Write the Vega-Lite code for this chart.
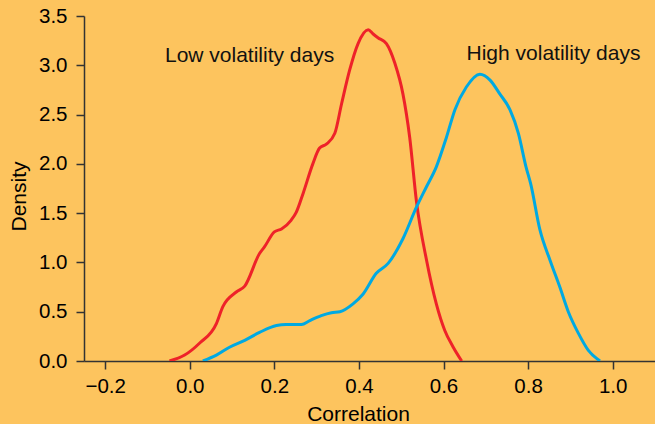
{
  "$schema": "https://vega.github.io/schema/vega-lite/v6.json",
  "width": 571,
  "height": 345,
  "autosize": "none",
  "padding": {"left": 84, "top": 16, "right": 0, "bottom": 63},
  "background": "#FDC45E",
  "config": {
    "view": {"stroke": null},
    "font": "Liberation Sans",
    "axis": {
      "domainColor": "#333333",
      "tickColor": "#333333",
      "tickSize": 8,
      "domainWidth": 1.5,
      "tickWidth": 1.5,
      "labelFont": "Liberation Sans",
      "labelFontSize": 20.5,
      "labelColor": "#000000",
      "titleFont": "Liberation Sans",
      "titleFontSize": 21,
      "titleFontWeight": "normal",
      "titleColor": "#000000",
      "grid": false
    }
  },
  "datasets": {
    "curves": [
      {"series": "Low", "x": -0.048, "y": 0.0},
      {"series": "Low", "x": -0.012, "y": 0.06},
      {"series": "Low", "x": 0.023, "y": 0.18},
      {"series": "Low", "x": 0.063, "y": 0.38},
      {"series": "Low", "x": 0.078, "y": 0.55},
      {"series": "Low", "x": 0.11, "y": 0.7},
      {"series": "Low", "x": 0.13, "y": 0.76},
      {"series": "Low", "x": 0.165, "y": 1.09},
      {"series": "Low", "x": 0.177, "y": 1.16},
      {"series": "Low", "x": 0.2, "y": 1.31},
      {"series": "Low", "x": 0.217, "y": 1.34},
      {"series": "Low", "x": 0.24, "y": 1.43},
      {"series": "Low", "x": 0.252, "y": 1.51},
      {"series": "Low", "x": 0.268, "y": 1.7},
      {"series": "Low", "x": 0.291, "y": 2.0},
      {"series": "Low", "x": 0.307, "y": 2.16},
      {"series": "Low", "x": 0.323, "y": 2.2},
      {"series": "Low", "x": 0.343, "y": 2.31},
      {"series": "Low", "x": 0.359, "y": 2.61},
      {"series": "Low", "x": 0.378, "y": 2.95},
      {"series": "Low", "x": 0.398, "y": 3.22},
      {"series": "Low", "x": 0.422, "y": 3.36},
      {"series": "Low", "x": 0.433, "y": 3.32},
      {"series": "Low", "x": 0.445, "y": 3.28},
      {"series": "Low", "x": 0.465, "y": 3.22},
      {"series": "Low", "x": 0.485, "y": 3.02},
      {"series": "Low", "x": 0.504, "y": 2.71},
      {"series": "Low", "x": 0.52, "y": 2.27},
      {"series": "Low", "x": 0.536, "y": 1.62},
      {"series": "Low", "x": 0.56, "y": 1.02},
      {"series": "Low", "x": 0.583, "y": 0.58},
      {"series": "Low", "x": 0.603, "y": 0.31},
      {"series": "Low", "x": 0.623, "y": 0.14},
      {"series": "Low", "x": 0.643, "y": 0.0},
      {"series": "High", "x": 0.031, "y": 0.0},
      {"series": "High", "x": 0.063, "y": 0.06},
      {"series": "High", "x": 0.094, "y": 0.14},
      {"series": "High", "x": 0.13, "y": 0.21},
      {"series": "High", "x": 0.165, "y": 0.29},
      {"series": "High", "x": 0.205, "y": 0.36},
      {"series": "High", "x": 0.228, "y": 0.37},
      {"series": "High", "x": 0.264, "y": 0.37},
      {"series": "High", "x": 0.284, "y": 0.41},
      {"series": "High", "x": 0.311, "y": 0.46},
      {"series": "High", "x": 0.335, "y": 0.49},
      {"series": "High", "x": 0.355, "y": 0.5},
      {"series": "High", "x": 0.386, "y": 0.58},
      {"series": "High", "x": 0.41, "y": 0.68},
      {"series": "High", "x": 0.441, "y": 0.89},
      {"series": "High", "x": 0.469, "y": 0.99},
      {"series": "High", "x": 0.504, "y": 1.24},
      {"series": "High", "x": 0.536, "y": 1.56},
      {"series": "High", "x": 0.56, "y": 1.77},
      {"series": "High", "x": 0.583, "y": 1.97},
      {"series": "High", "x": 0.607, "y": 2.27},
      {"series": "High", "x": 0.627, "y": 2.55},
      {"series": "High", "x": 0.654, "y": 2.78},
      {"series": "High", "x": 0.686, "y": 2.91},
      {"series": "High", "x": 0.71, "y": 2.85},
      {"series": "High", "x": 0.733, "y": 2.71},
      {"series": "High", "x": 0.757, "y": 2.55},
      {"series": "High", "x": 0.777, "y": 2.31},
      {"series": "High", "x": 0.795, "y": 1.97},
      {"series": "High", "x": 0.806, "y": 1.8},
      {"series": "High", "x": 0.828, "y": 1.33},
      {"series": "High", "x": 0.852, "y": 1.02},
      {"series": "High", "x": 0.875, "y": 0.75},
      {"series": "High", "x": 0.895, "y": 0.5},
      {"series": "High", "x": 0.919, "y": 0.28},
      {"series": "High", "x": 0.942, "y": 0.11},
      {"series": "High", "x": 0.97, "y": 0.0}
    ],
    "labels": [
      {"series": "Low", "x": 0.1415, "y": 3.03, "text": "Low volatility days"},
      {"series": "High", "x": 0.86, "y": 3.053, "text": "High volatility days"}
    ]
  },
  "layer": [
    {
      "data": {"name": "curves"},
      "mark": {"type": "line", "strokeWidth": 3, "interpolate": "monotone", "clip": true},
      "encoding": {
        "x": {
          "field": "x", "type": "quantitative",
          "scale": {"domain": [-0.25, 1.1], "nice": false, "zero": false},
          "axis": {
            "values": [-0.2, 0, 0.2, 0.4, 0.6, 0.8, 1.0],
            "format": ".1f",
            "title": "Correlation",
            "labelPadding": 7,
            "titleX": 274,
            "titleY": 59,
            "titleBaseline": "alphabetic"
          }
        },
        "y": {
          "field": "y", "type": "quantitative",
          "scale": {"domain": [0, 3.5], "nice": false},
          "axis": {
            "values": [0, 0.5, 1, 1.5, 2, 2.5, 3, 3.5],
            "format": ".1f",
            "title": "Density",
            "labelPadding": 9,
            "titleX": -65,
            "titleY": 180,
            "titleBaseline": "middle"
          }
        },
        "color": {
          "field": "series", "type": "nominal",
          "scale": {"domain": ["Low", "High"], "range": ["#EE2229", "#00A9E2"]},
          "legend": null
        },
        "detail": {"field": "series"}
      }
    },
    {
      "data": {"name": "labels"},
      "mark": {"type": "text", "fontSize": 21, "font": "Liberation Sans", "color": "#111111", "align": "center", "baseline": "alphabetic"},
      "encoding": {
        "x": {"field": "x", "type": "quantitative"},
        "y": {"field": "y", "type": "quantitative"},
        "text": {"field": "text"}
      }
    }
  ]
}
